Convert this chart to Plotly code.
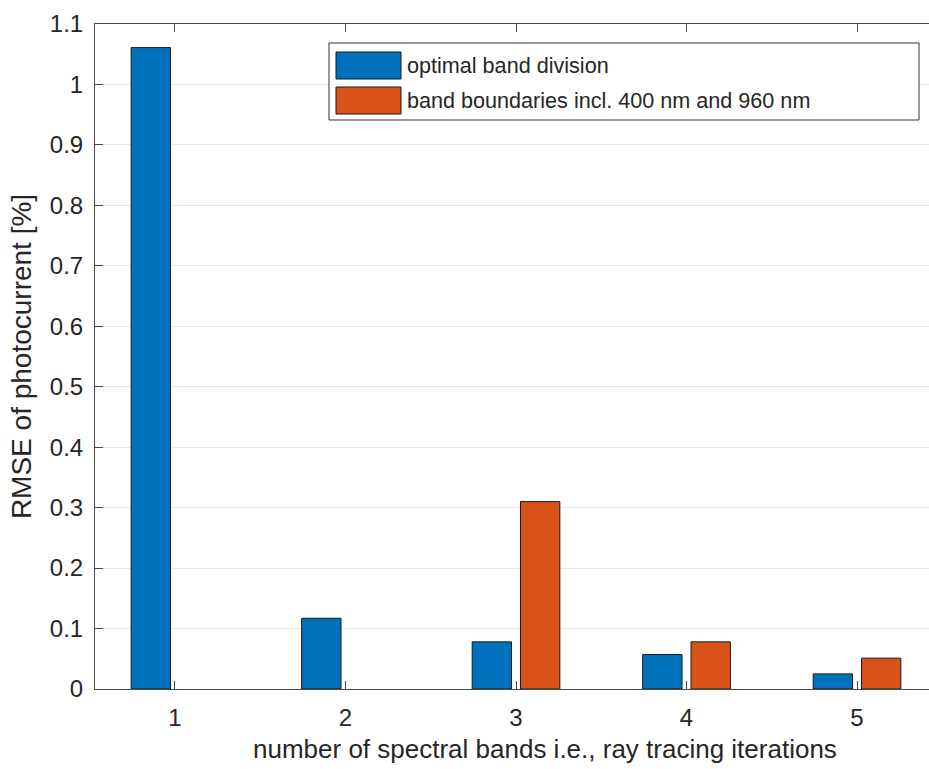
import plotly.graph_objects as go

categories = [1, 2, 3, 4, 5]
optimal = [1.061, 0.117, 0.078, 0.057, 0.025]
boundaries = [None, None, 0.310, 0.078, 0.051]
series_names = ["optimal band division", "band boundaries incl. 400 nm and 960 nm"]
y_ticks = [0, 0.1, 0.2, 0.3, 0.4, 0.5, 0.6, 0.7, 0.8, 0.9, 1.0, 1.1]
y_tick_labels = ["0", "0.1", "0.2", "0.3", "0.4", "0.5", "0.6", "0.7", "0.8", "0.9", "1", "1.1"]

BLUE = "#0072BD"
ORANGE = "#D95319"
AX = "#4a4a4a"
TXT = "#262626"
FONT = "Liberation Sans, Arial, sans-serif"

fig = go.Figure()
fig.add_trace(go.Bar(x=categories, y=optimal, name=series_names[0],
                     marker=dict(color=BLUE, line=dict(color="#1a1a1a", width=1))))
fig.add_trace(go.Bar(x=categories, y=boundaries, name=series_names[1],
                     marker=dict(color=ORANGE, line=dict(color="#1a1a1a", width=1))))

W, H = 929, 769
L, R, T, B = 95, 0, 24, 80
pw, ph = W - L - R, H - T - B


def px(x):
    return (x - L) / pw


def py(y):
    return (H - B - y) / ph


shapes = [
    dict(type="rect", xref="paper", yref="paper", x0=px(329), x1=px(919), y0=py(120), y1=py(43),
         line=dict(color="#333333", width=1), fillcolor="white", layer="above"),
    dict(type="rect", xref="paper", yref="paper", x0=px(336), x1=px(401), y0=py(79), y1=py(52),
         line=dict(color="#1a1a1a", width=1), fillcolor=BLUE, layer="above"),
    dict(type="rect", xref="paper", yref="paper", x0=px(336), x1=px(401), y0=py(114), y1=py(87),
         line=dict(color="#1a1a1a", width=1), fillcolor=ORANGE, layer="above"),
]
annotations = [
    dict(text=series_names[0], xref="paper", yref="paper", x=px(405), y=py(65.5),
         xanchor="left", yanchor="middle", showarrow=False, font=dict(size=21.6, color=TXT, family=FONT)),
    dict(text=series_names[1], xref="paper", yref="paper", x=px(405), y=py(100.5),
         xanchor="left", yanchor="middle", showarrow=False, font=dict(size=21.6, color=TXT, family=FONT)),
    dict(text="number of spectral bands i.e., ray tracing iterations", xref="paper", yref="paper",
         x=px(545), y=py(749), xanchor="center", yanchor="middle", showarrow=False,
         font=dict(size=26, color=TXT, family=FONT)),
]

fig.update_layout(
    width=W, height=H,
    margin=dict(l=L, r=R, t=T, b=B, pad=0),
    paper_bgcolor="white", plot_bgcolor="white",
    barmode="group", bargap=0.433, bargroupgap=0.186,
    showlegend=False,
    font=dict(family=FONT, color=TXT, size=24),
    shapes=shapes, annotations=annotations,
    xaxis=dict(range=[0.531, 5.422], tickvals=categories, ticktext=[str(c) for c in categories],
               showline=True, linecolor=AX, linewidth=1, mirror="ticks",
               ticks="inside", ticklen=8, tickcolor=AX, showgrid=False, zeroline=False,
               tickfont=dict(size=24, color=TXT), ticklabelstandoff=7),
    yaxis=dict(range=[0, 1.1], tickvals=y_ticks, ticktext=y_tick_labels,
               showline=True, linecolor=AX, linewidth=1, mirror=False,
               ticks="inside", ticklen=8, tickcolor=AX,
               showgrid=True, gridcolor="#e8e8e8", gridwidth=1, zeroline=False,
               tickfont=dict(size=24, color=TXT), ticklabelstandoff=6,
               title=dict(text="RMSE of photocurrent [%]", font=dict(size=28, color=TXT), standoff=10)),
)

fig.write_html("out.html", config={"displayModeBar": False},
               post_script="document.body.style.margin='0px';document.body.style.overflow='hidden';")
